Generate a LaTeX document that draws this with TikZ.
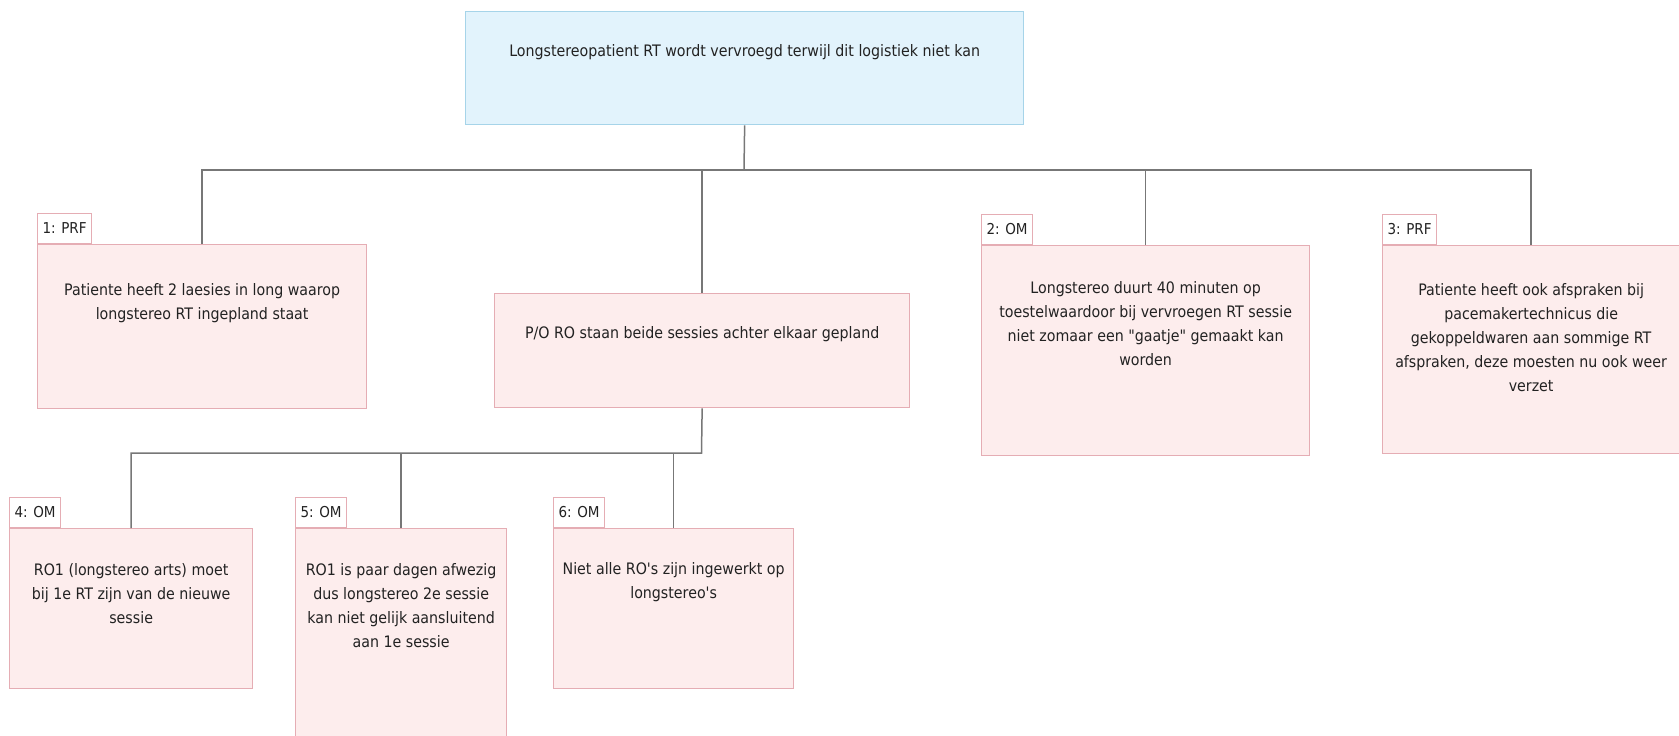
\documentclass[tikz,border=0pt]{standalone}
\usepackage{fontspec}
\setmainfont{DejaVu Sans Condensed}[Ligatures=TeXOff]
\usetikzlibrary{positioning}
\definecolor{pinkfill}{HTML}{FDEDED}
\definecolor{pinkline}{HTML}{E5ADB4}
\definecolor{bluefill}{HTML}{E2F3FC}
\definecolor{blueline}{HTML}{A6D4E9}
\definecolor{connline}{HTML}{777777}
\definecolor{txtcol}{HTML}{222222}
\tikzset{
  x=1pt, y=-1pt,
  box/.style={draw=pinkline, fill=pinkfill, line width=1.3pt, rectangle, anchor=north west, inner sep=0pt},
  topbox/.style={draw=blueline, fill=bluefill, line width=1.3pt, rectangle, anchor=north west, inner sep=0pt},
  tag/.style={draw=pinkline, fill=white, line width=1pt, rectangle, anchor=south west, inner xsep=5pt, inner ysep=0pt, minimum height=30pt, font=\fontsize{15}{17}\selectfont, text=txtcol},
  txt/.style={anchor=north, inner sep=0pt, align=center, text=txtcol, font=\fontsize{15.8}{24}\selectfont},
  conn/.style={draw=connline, line width=1.5pt},
}
\begin{document}
\begin{tikzpicture}
\useasboundingbox (0,0) rectangle (1679,736);
% top
\node[topbox, minimum width=558pt, minimum height=113pt] (top) at (465,11) {};
\node[txt, below=33pt of top.north, anchor=north] (toptxt) {Longstereopatient RT wordt vervroegd terwijl dit logistiek niet kan};
% level 1
\node[box, minimum width=329pt, minimum height=164pt] (b1) at (37,244) {};
\node[tag] (t1) at (b1.north west) {1: PRF};
\node[txt, below=39pt of b1.north, anchor=north] (b1txt) {Patiente heeft 2 laesies in long waarop\\longstereo RT ingepland staat};

\node[box, minimum width=415pt, minimum height=114pt] (po) at (494,293) {};
\node[txt, below=33pt of po.north, anchor=north] (potxt) {P/O RO staan beide sessies achter elkaar gepland};

\node[box, minimum width=328pt, minimum height=210pt] (b2) at (981,245) {};
\node[tag] (t2) at (b2.north west) {2: OM};
\node[txt, below=36pt of b2.north, anchor=north] (b2txt) {Longstereo duurt 40 minuten op\\toestelwaardoor bij vervroegen RT sessie\\niet zomaar een "gaatje" gemaakt kan\\worden};

\node[box, minimum width=297pt, minimum height=208pt] (b3) at (1382,245) {};
\node[tag] (t3) at (b3.north west) {3: PRF};
\node[txt, below=38pt of b3.north, anchor=north] (b3txt) {Patiente heeft ook afspraken bij\\pacemakertechnicus die\\gekoppeldwaren aan sommige RT\\afspraken, deze moesten nu ook weer\\verzet};

% level 2
\node[box, minimum width=243pt, minimum height=160pt] (b4) at (9,528) {};
\node[tag] (t4) at (b4.north west) {4: OM};
\node[txt, below=35pt of b4.north, anchor=north] (b4txt) {RO1 (longstereo arts) moet\\bij 1e RT zijn van de nieuwe\\sessie};

\node[box, minimum width=211pt, minimum height=210pt] (b5) at (295,528) {};
\node[tag] (t5) at (b5.north west) {5: OM};
\node[txt, below=35pt of b5.north, anchor=north] (b5txt) {RO1 is paar dagen afwezig\\dus longstereo 2e sessie\\kan niet gelijk aansluitend\\aan 1e sessie};

\node[box, minimum width=240pt, minimum height=160pt] (b6) at (553,528) {};
\node[tag] (t6) at (b6.north west) {6: OM};
\node[txt, below=34pt of b6.north, anchor=north] (b6txt) {Niet alle RO's zijn ingewerkt op\\longstereo's};

% connectors
\coordinate (bus1) at (744,170);
\draw[conn] (top.south) -- (bus1);
\draw[conn] (b1.north) -- (b1.north |- bus1) -- (b3.north |- bus1) -- (b3.north);
\draw[conn] (b2.north) -- (b2.north |- bus1);
\draw[conn] (po.north) -- (po.north |- bus1);
\coordinate (bus2) at (701.5,453);
\draw[conn] (po.south) -- (bus2) -- (b4.north |- bus2) -- (b4.north);
\draw[conn] (b5.north) -- (b5.north |- bus2);
\draw[conn] (b6.north) -- (b6.north |- bus2);
\end{tikzpicture}
\end{document}
